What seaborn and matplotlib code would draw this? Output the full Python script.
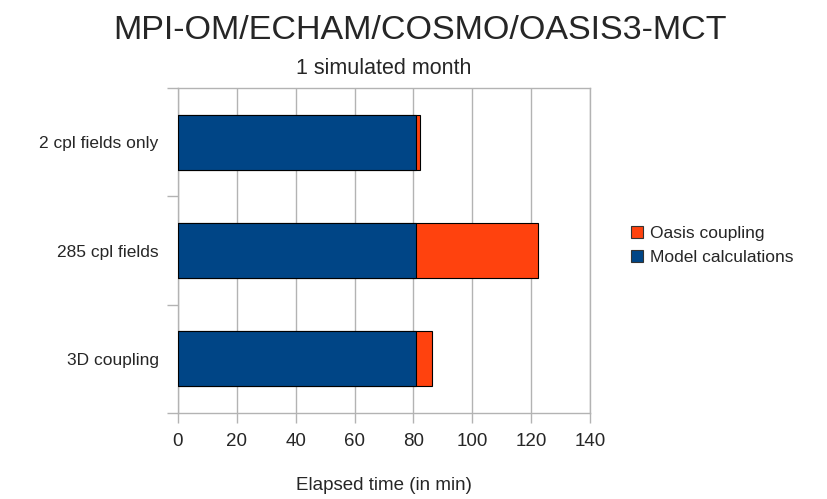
import matplotlib
matplotlib.use("Agg")
import matplotlib.pyplot as plt
import numpy as np
import pandas as pd
import seaborn as sns
from matplotlib.patches import Patch

# values (minutes)
runs = ["2 cpl fields only", "285 cpl fields", "3D coupling"]
model_calc = [81.0, 80.8, 81.0]
oasis_cpl = [1.1, 41.4, 5.3]

blue = "#004586"
orange = "#ff420e"
grey = "#b3b3b3"

df = pd.DataFrame({"run": runs, "model": model_calc, "oasis": oasis_cpl})
df["total"] = df["model"] + df["oasis"]

sns.set_style("white")
plt.rcParams["font.family"] = ["Liberation Sans", "DejaVu Sans"]

fig = plt.figure(figsize=(8.27, 4.99), dpi=100)
ax = fig.add_axes([0.2152, 0.1723, 0.4982, 0.6513])

# stacked bars: total (orange) first, model calc (blue) on top
sns.barplot(data=df, y="run", x="total", order=runs, color=orange, orient="h",
            width=0.51, saturation=1, edgecolor="black", linewidth=0.8, ax=ax, zorder=3)
sns.barplot(data=df, y="run", x="model", order=runs, color=blue, orient="h",
            width=0.51, saturation=1, edgecolor="black", linewidth=0.8, ax=ax, zorder=4)

ax.set_xlim(0, 140)
ax.set_ylim(2.5, -0.5)
ax.set_xticks(np.arange(0, 141, 20))
ax.xaxis.grid(True, color=grey, linewidth=1.0, zorder=0)
ax.set_axisbelow(True)

ax.set_yticks([-0.5, 0.5, 1.5, 2.5])
ax.set_yticklabels([])
ax.set_yticks(range(len(runs)), minor=True)
ax.set_yticklabels(runs, minor=True)
ax.tick_params(axis="y", which="major", length=8, color=grey, width=1.0, direction="out", left=True)
ax.tick_params(axis="y", which="minor", length=0, pad=14, labelsize=12.5)
ax.tick_params(axis="x", length=7.5, color=grey, width=1.0, direction="out",
               bottom=True, pad=7, labelsize=13.5)

for s in ax.spines.values():
    s.set_visible(True)
    s.set_color(grey)
    s.set_linewidth(1.0)

ax.set_xlabel("Elapsed time (in min)", fontsize=13.5, labelpad=19)
ax.set_ylabel("")
ax.set_title("1 simulated month", fontsize=15.5, pad=10)
fig.text(0.508, 0.938, "MPI-OM/ECHAM/COSMO/OASIS3-MCT", fontsize=24.5,
         ha="center", va="center")

handles = [Patch(facecolor=orange, edgecolor="#333333", linewidth=0.8, label="Oasis coupling"),
           Patch(facecolor=blue, edgecolor="#333333", linewidth=0.8, label="Model calculations")]
fig.legend(handles=handles, loc="center left", bbox_to_anchor=(0.744, 0.508),
           frameon=False, fontsize=12.5, handlelength=0.7, handleheight=0.7,
           handletextpad=0.4, labelspacing=0.55)

fig.savefig("out.png", dpi=100)
